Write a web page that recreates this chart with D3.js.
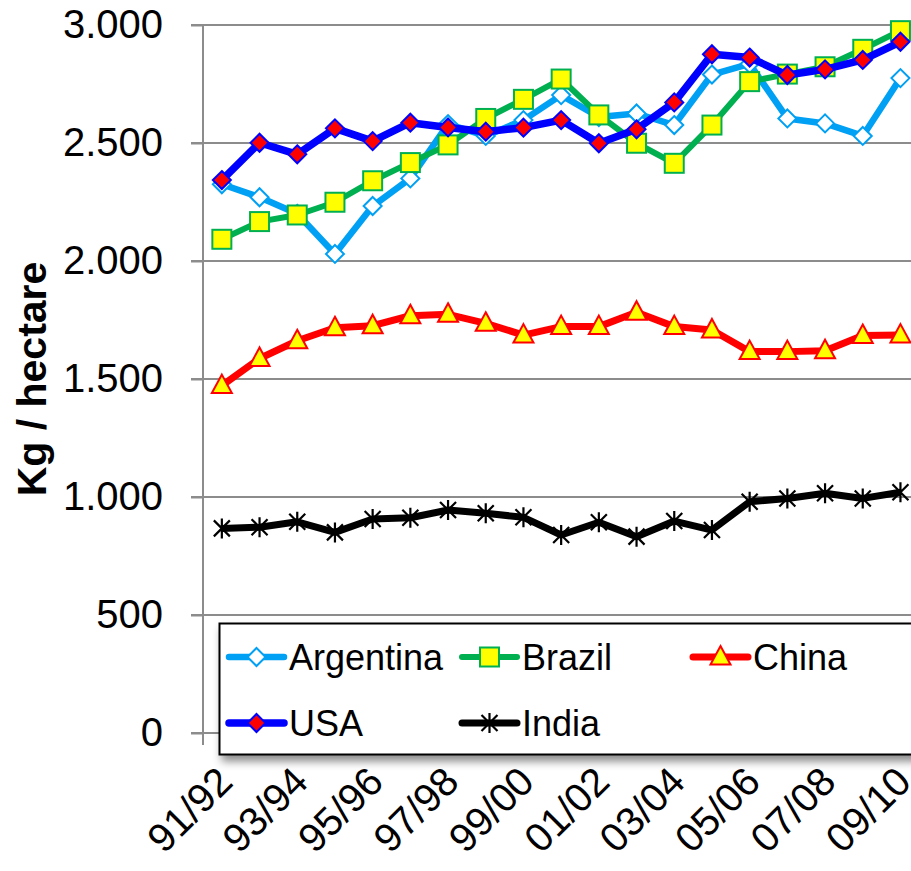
<!DOCTYPE html>
<html>
<head>
<meta charset="utf-8">
<script src="https://cdn.jsdelivr.net/npm/d3@7"></script>
<style>
  html, body { margin: 0; padding: 0; background: #fff; }
  svg { display: block; }
  text { font-family: "Liberation Sans", Arial, sans-serif; fill: #000; }
</style>
</head>
<body>
<svg id="chart" width="911" height="871"></svg>
<script>
const seasons = ["91/92","92/93","93/94","94/95","95/96","96/97","97/98","98/99","99/00","00/01",
                 "01/02","02/03","03/04","04/05","05/06","06/07","07/08","08/09","09/10"];
const shownLabels = ["91/92","93/94","95/96","97/98","99/00","01/02","03/04","05/06","07/08","09/10"];
const yTicks = [0, 500, 1000, 1500, 2000, 2500, 3000];

const argentina = [2325, 2270, 2200, 2030, 2233, 2350, 2580, 2530, 2597, 2703, 2610, 2625, 2576, 2790, 2835, 2604, 2583, 2530, 2775];
const brazil    = [2092, 2167, 2195, 2249, 2340, 2417, 2492, 2604, 2685, 2771, 2619, 2499, 2414, 2576, 2760, 2792, 2823, 2897, 2976];
const china     = [1472, 1587, 1662, 1717, 1726, 1768, 1774, 1736, 1686, 1722, 1722, 1783, 1722, 1708, 1616, 1616, 1620, 1684, 1686];
const usa       = [2343, 2501, 2452, 2562, 2508, 2586, 2566, 2548, 2565, 2597, 2499, 2558, 2672, 2876, 2862, 2788, 2812, 2852, 2929];
const india     = [867, 872, 895, 850, 907, 912, 945, 931, 914, 839, 893, 832, 898, 860, 980, 994, 1016, 994, 1020];

const seriesNames = ["Argentina", "Brazil", "China", "USA", "India"];
const seriesValues = [argentina, brazil, china, usa, india];

const styles = {
  Argentina: { line: "#00A0F4", width: 6.5, marker: "diamond", fill: "#FFFFFF", stroke: "#00A0F4" },
  Brazil:    { line: "#00B050", width: 6,   marker: "square",  fill: "#FFFF00", stroke: "#00B050" },
  China:     { line: "#FF0000", width: 7,   marker: "triangle",fill: "#FFFF00", stroke: "#FF0000" },
  USA:       { line: "#0000FF", width: 7.5, marker: "diamond", fill: "#FF0000", stroke: "#0000FF" },
  India:     { line: "#000000", width: 7,   marker: "star",    fill: "none",    stroke: "#000000" }
};

const svg = d3.select("#chart");
const W = 911, H = 871;

const x = d3.scaleBand().domain(seasons).range([203, 919.3]).paddingInner(0).paddingOuter(0);
const cx = d => x(d) + x.bandwidth() / 2;
const y = d3.scaleLinear().domain([0, 3000]).range([733, 25]);

const locale = d3.formatLocale({ decimal: ",", thousands: ".", grouping: [3], currency: ["", ""] });
const fmt = locale.format(",d");

const gridColor = "#8C8C8C";

// Gridlines
svg.append("g").selectAll("line").data(yTicks.filter(v => v > 0)).join("line")
  .attr("x1", 191).attr("x2", W + 10)
  .attr("y1", d => y(d)).attr("y2", d => y(d))
  .attr("stroke", gridColor).attr("stroke-width", 2);

// Y axis
const yAxis = d3.axisLeft(y).tickValues(yTicks).tickFormat(fmt).tickSize(12).tickPadding(28);
const gy = svg.append("g").attr("transform", "translate(203,0)").call(yAxis);
gy.select(".domain").remove();
gy.selectAll(".tick line").attr("stroke", gridColor).attr("stroke-width", 2);
gy.selectAll(".tick text").attr("font-size", 40).attr("font-family", "'Liberation Sans', Arial, sans-serif").attr("fill", "#000");
svg.append("line").attr("x1", 203).attr("x2", 203).attr("y1", 25).attr("y2", 745)
  .attr("stroke", gridColor).attr("stroke-width", 2);

// X axis
const xAxis = d3.axisBottom(x).tickValues(seasons).tickSize(0).tickFormat(() => "");
const gx = svg.append("g").attr("transform", "translate(0,733)").call(xAxis);
gx.select(".domain").remove();
svg.append("line").attr("x1", 191).attr("x2", W + 10).attr("y1", 733).attr("y2", 733)
  .attr("stroke", gridColor).attr("stroke-width", 2);
svg.append("g").selectAll("line").data(seasons).join("line")
  .attr("x1", d => x(d) + x.bandwidth()).attr("x2", d => x(d) + x.bandwidth())
  .attr("y1", 733).attr("y2", 745).attr("stroke", gridColor).attr("stroke-width", 2);

// X labels
svg.append("g").selectAll("text").data(shownLabels).join("text")
  .attr("transform", d => `translate(${cx(d) + 3},774) rotate(-45)`)
  .attr("text-anchor", "end").attr("dy", "0.35em")
  .attr("font-size", 40).text(d => d);

// Y title
svg.append("text").attr("transform", "translate(46,379) rotate(-90)")
  .attr("text-anchor", "middle").attr("font-size", 41).attr("font-weight", "bold")
  .text("Kg / hectare");

// Marker drawing
function drawMarker(g, type, st) {
  if (type === "diamond") {
    g.append("path").attr("d", "M0,-9 L9,0 L0,9 L-9,0 Z")
      .attr("fill", st.fill).attr("stroke", st.stroke).attr("stroke-width", 2);
  } else if (type === "square") {
    g.append("rect").attr("x", -9.5).attr("y", -9.5).attr("width", 19).attr("height", 19)
      .attr("fill", st.fill).attr("stroke", st.stroke).attr("stroke-width", 2);
  } else if (type === "triangle") {
    g.append("path").attr("d", "M0,-11 L10,7.5 L-10,7.5 Z")
      .attr("fill", st.fill).attr("stroke", st.stroke).attr("stroke-width", 2);
  } else if (type === "star") {
    g.append("path").attr("d", "M-8,-8 L8,8 M-8,8 L8,-8 M0,-10 L0,10")
      .attr("fill", "none").attr("stroke", st.stroke).attr("stroke-width", 2.2);
  }
}

const line = d3.line().x(d => cx(d.s)).y(d => y(d.v));

seriesNames.forEach((name, i) => {
  const st = styles[name];
  const pts = seasons.map((s, j) => ({ s, v: seriesValues[i][j] }));
  const g = svg.append("g");
  g.append("path").datum(pts).attr("d", line)
    .attr("fill", "none").attr("stroke", st.line).attr("stroke-width", st.width)
    .attr("stroke-linejoin", "round");
  pts.forEach(p => {
    const m = g.append("g").attr("transform", `translate(${cx(p.s)},${y(p.v)})`);
    drawMarker(m, st.marker, st);
  });
});

// Legend
const defs = svg.append("defs");
const f = defs.append("filter").attr("id", "shadow").attr("x", "-10%").attr("y", "-10%").attr("width", "130%").attr("height", "140%");
f.append("feDropShadow").attr("dx", 3).attr("dy", 6).attr("stdDeviation", 4)
  .attr("flood-color", "#000").attr("flood-opacity", 0.45);

svg.append("rect").attr("x", 219.5).attr("y", 623.5).attr("width", 720).attr("height", 131)
  .attr("fill", "#fff").attr("stroke", "#000").attr("stroke-width", 2)
  .attr("filter", "url(#shadow)");

const legendPos = [
  { name: "Argentina", x: 229, y: 657 },
  { name: "Brazil",    x: 462, y: 657 },
  { name: "China",     x: 693, y: 657 },
  { name: "USA",       x: 229, y: 723 },
  { name: "India",     x: 462, y: 723 }
];
legendPos.forEach(lp => {
  const st = styles[lp.name];
  const g = svg.append("g").attr("transform", `translate(${lp.x},${lp.y})`);
  g.append("line").attr("x1", 0).attr("x2", 55).attr("y1", 0).attr("y2", 0)
    .attr("stroke", st.line).attr("stroke-width", st.width).attr("stroke-linecap", "round");
  const m = g.append("g").attr("transform", "translate(27.5,0)");
  drawMarker(m, st.marker, st);
  g.append("text").attr("x", 60).attr("y", 0).attr("dy", "0.36em")
    .attr("font-size", 36).text(lp.name);
});
</script>
</body>
</html>
